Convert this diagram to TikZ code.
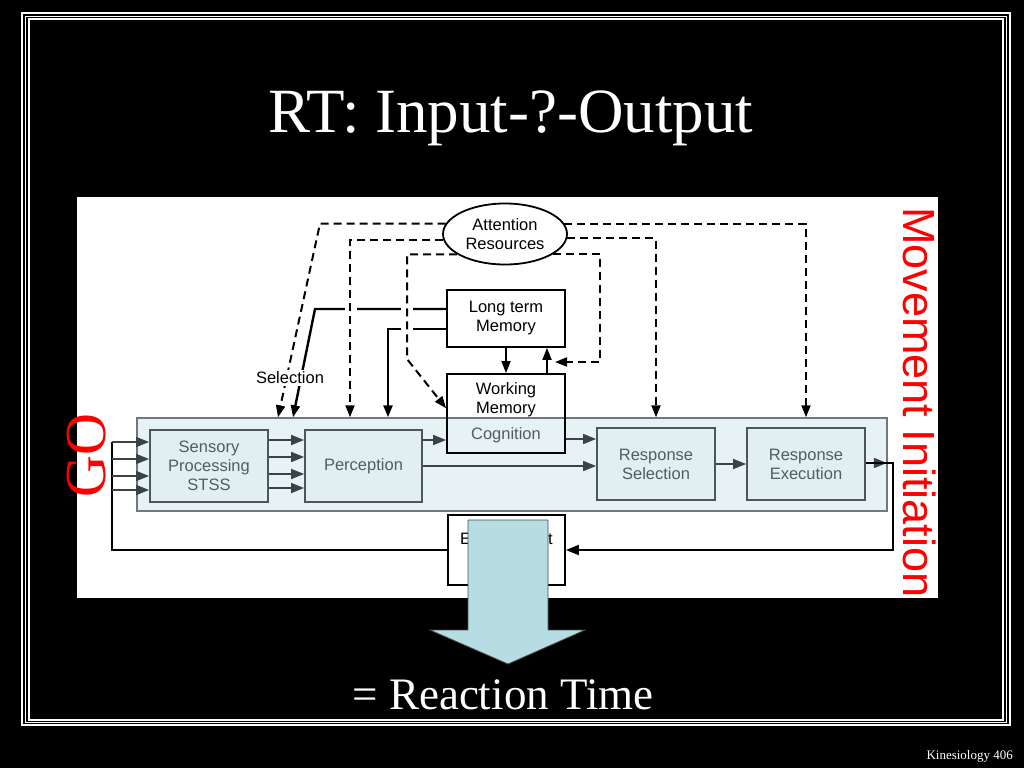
\documentclass[tikz,border=0pt]{standalone}
\usepackage{fontspec}
\setmainfont{Liberation Serif}
\setsansfont{Liberation Sans}
\usetikzlibrary{arrows.meta,shapes.geometric}

\definecolor{bandfill}{RGB}{230,242,244}
\definecolor{boxfill}{RGB}{226,239,242}
\definecolor{boxline}{RGB}{78,86,90}
\definecolor{boxtext}{RGB}{84,92,96}
\definecolor{flowgray}{RGB}{58,68,72}
\definecolor{rtarrow}{RGB}{182,221,226}
\newcommand\diagfont{\fontsize{16.5}{19}\selectfont\sffamily}

\tikzset{
	stage/.style={draw=boxline, line width=1.8pt, fill=boxfill, minimum width=118pt, minimum height=72pt, inner sep=0pt, text=boxtext, font=\diagfont, align=center},
	memo/.style={draw=black, line width=1.8pt, inner sep=0pt, minimum width=118pt, font=\diagfont, align=center},
	attn/.style={-{Triangle[length=12pt,width=9pt]}, line width=2pt, dash pattern=on 8pt off 5pt},
	recall/.style={-{Triangle[length=12pt,width=9pt]}, line width=2.4pt},
	flow/.style={-{Triangle[length=13pt,width=10pt]}, line width=1.6pt, draw=flowgray, color=flowgray},
	fback/.style={line width=2pt},
	frameline/.style={draw=white, line width=2pt}
}

\begin{document}
\begin{tikzpicture}[x=1pt, y=-1pt]
		%%%%% SLIDE %%%%%
		
		\fill[black] (0,0) rectangle (1024,768);
		\draw[frameline] (22,13.5) rectangle (1009.5,725);
		\draw[frameline, line width=1pt, draw=white!75] (25.5,16.5) rectangle (1006,722);
		\draw[frameline] (28.5,19.5) rectangle (1003,719.5);
		
		\node[anchor=base, text=white, font=\fontsize{63}{70}\selectfont] (title) at (511,132) {RT: Input-?-Output};
		
		%%%%% DIAGRAM %%%%%
		
		\fill[white] (77,197) rectangle (938,598);
		\node[draw=boxline!80, line width=1.4pt, fill=bandfill, minimum width=750pt, minimum height=93pt, inner sep=0pt] (band) at (512,464.5) {};
		
		\node[stage] (sens) at (209,466) {Sensory\\Processing\\STSS};
		\node[stage, minimum width=117pt] (perc) at (363.5,466) {Perception};
		\node[stage] (rsel) at (656,464) {Response\\Selection};
		\node[stage] (rexe) at (806,464) {Response\\Execution};
		
		\node[memo, fill=white, minimum height=57pt] (ltm) at (506,318.5) {Long term\\Memory};
		\node[memo, minimum height=79pt] (wm) at (506,413.5) {};
		\node[font=\diagfont, align=center] (wmtxt) at (506,400) {Working\\Memory};
		\node[font=\diagfont, text=boxtext] (cogn) at (506,435) {Cognition};
		
		\node[ellipse, draw, line width=1.8pt, fill=white, minimum width=124pt, minimum height=61pt, inner sep=0pt, font=\diagfont, align=center] (att) at (505,234) {Attention\\Resources};
		
		% flow inside the band
		\foreach \y in {440,457,474,488}
			\draw[flow] (sens.east |- 0,\y) -- (perc.west |- 0,\y);
		\draw[flow] (perc.east |- 0,440) -- (wm.west |- 0,440);
		\draw[flow] (perc.east |- 0,466) -- (rsel.west |- 0,466);
		\draw[flow] (wm.east |- 0,439) -- (rsel.west |- 0,439);
		\draw[flow] (rsel.east) -- (rexe.west);
		\draw[flow] (rexe.east |- 0,463) -- ++(21,0);
		
		% long term memory links
		\draw[recall] (ltm.171) -- (ltm.171 -| 315,0) -- (band.north -| 293,0);
		\draw[recall] (ltm.190) -| (band.north -| 388,0);
		\draw[recall, line width=1.8pt] (ltm.south) -- (wm.north);
		\draw[recall, line width=1.8pt] (wm.north -| 547,0) -- (ltm.south -| 547,0);
		\foreach \x/\y in {351/309, 407/309, 407/329}
			\fill[white] (\x-6,\y-3) rectangle (\x+6,\y+3);
		
		% attention resources
		\coordinate (ltmback) at (555,362);
		\draw[attn] (att.170) -- (att.170 -| 320,0) -- (band.north -| 278,0);
		\draw[attn] (att.186) -| (band.north -| 350,0);
		\draw[attn] (att.203) -| (407,359) -- (wm.175);
		\draw[attn] (att.337) -| (600,362) -- (ltmback);
		\draw[attn] (att.356) -| (band.north -| rsel.north);
		\draw[attn] (att.10) -| (band.north -| rexe.north);
		
		\node[fill=white, inner sep=1.5pt, font=\diagfont] (sel) at (290,378) {Selection};
		
		% environment and feedback
		\node[memo, fill=white, minimum width=117pt, minimum height=70pt] (env) at (506.5,550) {Environment\\(Display)};
		\coordinate (goin) at (112,442);
		\draw[fback] (env.west) -| (goin);
		\foreach \y in {442,459,476,490}
			\draw[flow] (goin |- 0,\y) -- (sens.west |- 0,\y);
		\draw[fback, -{Triangle[length=13pt,width=10pt]}] (rexe.east |- 0,463) -| (893,550) -- (env.east);
		
		%%%%% RT ARROW %%%%%
		
		\draw[fill=rtarrow, draw=black!70, line width=0.8pt] (468,520) -- (548,520) -- (548,630) -- (585,630) -- (508,664) -- (430,630) -- (468,630) -- cycle;
		
		\node[anchor=base, text=white, font=\fontsize{45}{50}\selectfont] (rt) at (503,709) {= Reaction Time};
		\node[anchor=base west, rotate=90, text=red, font=\fontsize{58}{60}\selectfont] (go) at (105,501) {GO};
		\node[anchor=base west, rotate=-90, text=red, font=\fontsize{45}{50}\selectfont\sffamily, inner sep=0pt] (mvinit) at (903,207) {Movement Initiation};
		\node[anchor=base east, text=white, font=\fontsize{13}{15}\selectfont, inner sep=0pt] (pg) at (1013,759) {Kinesiology 406};
		
		%%%%% END %%%%%
	\end{tikzpicture}
\end{document}
